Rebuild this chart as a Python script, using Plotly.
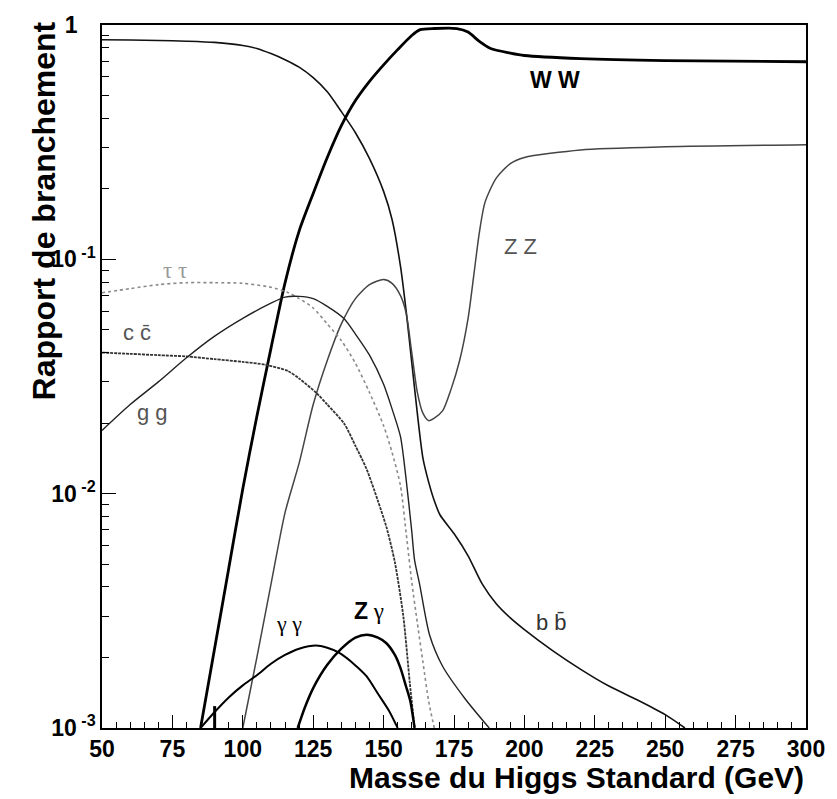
import math
import plotly.graph_objects as go

# ---- data (Higgs mass in GeV, branching ratio) ----
bb_m = [50, 60, 70, 80, 90, 100, 105, 110, 115, 120, 125, 130, 135, 140, 145, 150, 153, 156, 158, 160, 162, 164, 166, 168, 170, 175, 180, 185, 190, 195, 200, 210, 220, 230, 240, 250, 257]
bb_v = [0.865, 0.863, 0.859, 0.853, 0.843, 0.818, 0.794, 0.755, 0.711, 0.661, 0.596, 0.519, 0.427, 0.347, 0.269, 0.195, 0.148, 0.0933, 0.0603, 0.0363, 0.0219, 0.0141, 0.0112, 0.00933, 0.00813, 0.00676, 0.00543, 0.00412, 0.00339, 0.00295, 0.00263, 0.00214, 0.00178, 0.00151, 0.00132, 0.00114, 0.001]

ww_m = [85, 90, 95, 100, 105, 110, 115, 120, 125, 130, 135, 140, 145, 150, 155, 160, 163, 168, 176, 180, 184, 188, 195, 200, 220, 250, 300]
ww_v = [0.001, 0.00219, 0.00479, 0.0105, 0.0214, 0.0417, 0.0794, 0.132, 0.191, 0.272, 0.372, 0.476, 0.575, 0.676, 0.785, 0.902, 0.955, 0.966, 0.966, 0.933, 0.851, 0.794, 0.759, 0.741, 0.719, 0.705, 0.697]

zz_m = [100, 105, 110, 115, 120, 125, 130, 135, 140, 145, 150, 153, 156, 158, 160, 162, 164, 166, 168, 171, 174, 177, 180, 182, 184, 186, 190, 195, 200, 220, 250, 300]
zz_v = [0.001, 0.002, 0.0041, 0.0083, 0.0135, 0.024, 0.037, 0.053, 0.068, 0.078, 0.082, 0.079, 0.07, 0.059, 0.040, 0.027, 0.022, 0.0205, 0.021, 0.0226, 0.028, 0.037, 0.056, 0.085, 0.13, 0.175, 0.222, 0.256, 0.272, 0.293, 0.302, 0.308]

tautau_m = [50, 60, 70, 80, 90, 100, 110, 116, 120, 125, 130, 135, 140, 145, 150, 153, 156, 158, 160, 162, 164, 166, 168]
tautau_v = [0.072, 0.075, 0.078, 0.0795, 0.0795, 0.079, 0.076, 0.0722, 0.068, 0.062, 0.053, 0.045, 0.036, 0.027, 0.0195, 0.015, 0.0108, 0.0068, 0.0042, 0.0028, 0.0019, 0.0013, 0.001]

cc_m = [50, 60, 70, 80, 90, 100, 108, 116, 120, 126, 130, 136, 140, 144, 148, 151, 154, 157, 159.3, 161]
cc_v = [0.040, 0.0395, 0.039, 0.0385, 0.0375, 0.0365, 0.0355, 0.0334, 0.031, 0.027, 0.024, 0.0199, 0.016, 0.0127, 0.0093, 0.0072, 0.0051, 0.003, 0.00156, 0.001]

gg_m = [50, 60, 70, 80, 90, 100, 110, 115, 120, 125, 130, 136, 140, 145, 150, 153, 156, 158, 160, 161, 162.8, 166.3, 171, 179, 187.5]
gg_v = [0.0186, 0.024, 0.030, 0.038, 0.047, 0.056, 0.065, 0.069, 0.0695, 0.068, 0.063, 0.0558, 0.048, 0.039, 0.0293, 0.023, 0.0175, 0.0115, 0.0069, 0.0052, 0.0041, 0.0025, 0.00183, 0.00133, 0.001]

gamgam_m = [85, 90, 95, 100, 105, 110, 115, 120, 126, 130, 134, 140, 144, 148, 152, 155]
gamgam_v = [0.001, 0.00117, 0.00135, 0.00152, 0.00168, 0.00188, 0.00205, 0.00218, 0.00225, 0.0022, 0.0021, 0.00185, 0.00166, 0.0014, 0.00118, 0.001]

zgam_m = [119.5, 122, 125, 130, 135, 140, 144, 148, 151, 154, 156, 158, 159.5, 161]
zgam_v = [0.001, 0.00122, 0.00148, 0.00186, 0.00218, 0.00243, 0.0025, 0.00243, 0.0023, 0.00205, 0.0018, 0.0015, 0.0013, 0.001]

mark_m = [90, 90]
mark_v = [0.001, 0.00124]

x_ticks = [50, 75, 100, 125, 150, 175, 200, 225, 250, 275, 300]
y_ticks = [0.001, 0.01, 0.1, 1]
y_ticktext = ["10\u2009<sup>-3</sup>", "10\u2009<sup>-2</sup>", "10\u2009<sup>-1</sup>", "1\u2002\u2009\u200a"]
y_minor = [k * 10.0 ** e for e in (-3, -2, -1) for k in range(2, 10)]

# labels: (text, mass, BR, colour, family, size, bold)
labels = [
    ("W W", 210.8, 0.585, "black", "Liberation Sans", 23, True),
    ("Z Z", 198.5, 0.113, "#555555", "Liberation Sans", 22, False),
    ("τ τ", 76, 0.090, "#999999", "Liberation Serif", 23, False),
    ("c c\u0304", 62.3, 0.0485, "#555555", "Liberation Sans", 22, False),
    ("g g", 67.9, 0.0222, "#555555", "Liberation Sans", 22, False),
    ("γ γ", 116.4, 0.00278, "black", "Liberation Serif", 22, False),
    ("<span style='font-family:Liberation Sans'><b>Z</b></span> γ", 144.8, 0.00315, "black", "Liberation Serif", 23, False),
    ("b b\u0304", 209.5, 0.00282, "#333333", "Liberation Sans", 22, False),
]

fig = go.Figure()

def add(xs, ys, color, width, dash="solid"):
    fig.add_trace(go.Scatter(x=xs, y=ys, mode="lines",
                             line=dict(color=color, width=width, dash=dash, shape="spline", smoothing=0.7),
                             showlegend=False, hoverinfo="skip"))

add(bb_m, bb_v, "#111111", 1.6)
add(ww_m, ww_v, "black", 2.8)
add(zz_m, zz_v, "#444444", 1.5)
add(tautau_m, tautau_v, "#8a8a8a", 1.6, "dot")
add(cc_m, cc_v, "#333333", 1.8, "3px,1px")
add(gg_m, gg_v, "#222222", 1.4)
add(gamgam_m, gamgam_v, "black", 2.0)
add(zgam_m, zgam_v, "black", 2.5)
fig.add_trace(go.Scatter(x=mark_m, y=mark_v, mode="lines", line=dict(color="black", width=3),
                         showlegend=False, hoverinfo="skip"))

for text, m, v, col, fam, size, bold in labels:
    fig.add_annotation(x=m, y=math.log10(v), xref="x", yref="y", text=text, showarrow=False,
                       font=dict(family=fam, size=size, color=col, weight="bold" if bold else "normal"),
                       xanchor="center", yanchor="middle")

# axis titles
fig.add_annotation(x=1.0, y=-0.070, xref="paper", yref="paper", text="Masse du Higgs Standard (GeV)",
                   showarrow=False, xanchor="right", yanchor="middle",
                   font=dict(family="Liberation Sans", size=30, color="black", weight="bold"))
fig.add_annotation(x=-0.083, y=0.7356, xref="paper", yref="paper", text="Rapport de branchement",
                   showarrow=False, textangle=-90, xanchor="center", yanchor="middle",
                   font=dict(family="Liberation Sans", size=32, color="black", weight="bold"))

fig.update_layout(
    width=837, height=799,
    margin=dict(l=102, r=22, t=15, b=71),
    paper_bgcolor="white", plot_bgcolor="white",
    font=dict(family="Liberation Sans", color="black"),
)
fig.update_xaxes(range=[50, 300], showgrid=False, zeroline=False,
                 showline=True, linecolor="black", linewidth=1.5, mirror=True,
                 ticks="inside", ticklen=13, tickwidth=1, tickcolor="black",
                 tickvals=x_ticks, ticktext=[str(t) for t in x_ticks],
                 tickfont=dict(family="Liberation Sans", size=23, weight="bold"),
                 minor=dict(ticks="inside", ticklen=6, dtick=5, tickcolor="black", showgrid=False))
fig.update_yaxes(type="log", range=[-3, 0], showgrid=False, zeroline=False,
                 showline=True, linecolor="black", linewidth=1.5, mirror=True,
                 ticks="inside", ticklen=14, tickwidth=1, tickcolor="black",
                 tickvals=y_ticks, ticktext=y_ticktext,
                 tickfont=dict(family="Liberation Sans", size=23, weight="bold"),
                 minor=dict(ticks="inside", ticklen=7, tickvals=y_minor, tickcolor="black", showgrid=False))

fig.write_html("out.html")
